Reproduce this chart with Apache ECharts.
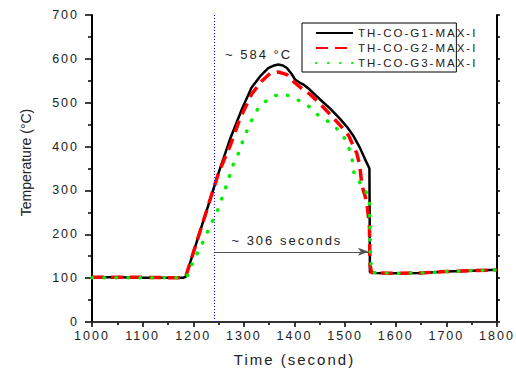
<!DOCTYPE html>
<html><head><meta charset="utf-8">
<script src="https://cdn.jsdelivr.net/npm/echarts@6/dist/echarts.min.js"></script>
<style>
html,body{margin:0;padding:0;background:#fff;}
#chart{width:516px;height:372px;}
#chart text{letter-spacing:2px;}
</style></head><body><div id="chart"></div>
<script>
// ---- data ----
const seriesNames = ['TH-CO-G1-MAX-I', 'TH-CO-G2-MAX-I', 'TH-CO-G3-MAX-I'];

const timeG1 = [1000, 1050, 1100, 1150, 1180, 1185, 1250, 1273, 1296, 1315, 1332, 1348, 1360, 1368, 1377, 1385, 1394, 1401, 1410, 1417, 1430, 1450, 1470, 1490, 1505, 1516, 1528, 1539, 1548, 1549, 1552, 1560, 1600, 1650, 1700, 1750, 1800];
const tempG1 = [102, 102, 101, 101, 101, 103, 340, 418, 485, 534, 560, 579, 585, 587, 585, 579, 566, 553, 546, 542, 530, 508, 487, 463, 443, 425, 400, 372, 350, 114, 113, 112, 111, 112, 115, 117, 119];

const timeG2 = [1000, 1050, 1100, 1150, 1180, 1185, 1250, 1273, 1292, 1315, 1335, 1352, 1368, 1385, 1401, 1415, 1431, 1450, 1464, 1480, 1497, 1507, 1516, 1523, 1529, 1533, 1540, 1543, 1546, 1548, 1549, 1552, 1560, 1600, 1650, 1700, 1750, 1800];
const tempG2 = [102, 102, 102, 101, 101, 103, 340, 402, 463, 519, 549, 567, 570, 564, 545, 532, 519, 498, 481, 461, 440, 425, 402, 385, 357, 312, 285, 271, 240, 222, 132, 113, 112, 111, 112, 115, 117, 119];

const timeG3 = [1000, 1050, 1100, 1150, 1180, 1188, 1195, 1205, 1217, 1228, 1238, 1248, 1256, 1264, 1279, 1289, 1297, 1306, 1317, 1329, 1348, 1362, 1375, 1390, 1404, 1427, 1450, 1470, 1493, 1503, 1513, 1518, 1529, 1539, 1548, 1550, 1552, 1560, 1600, 1650, 1700, 1750, 1800];
const tempG3 = [101, 101, 101, 101, 101, 105, 126, 150, 177, 205, 230, 254, 280, 306, 359, 384, 410, 436, 464, 489, 508, 516, 520, 516, 508, 493, 468, 455, 431, 410, 380, 335, 318, 303, 278, 150, 113, 112, 111, 112, 115, 117, 119];

const xTicks = [1000, 1100, 1200, 1300, 1400, 1500, 1600, 1700, 1800];
const yTicks = [0, 100, 200, 300, 400, 500, 600, 700];

const markerTime = 1242;          // blue dotted marker
const durationEndTime = 1547;     // arrow end
const durationArrowTemp = 160;
const peakText = '~ 584 °C';
const peakTextPos = [1329, 609];
const durationText = '~ 306 seconds';
const durationTextPos = [1385, 186];
const yTitle = 'Temperature (°C)';
const xTitle = 'Time (second)';

// ---- chart ----
const pair = (xs, ys) => xs.map((x, i) => [x, ys[i]]);
const chart = echarts.init(document.getElementById('chart'), null, {renderer: 'svg'});
const FONT = 'Liberation Sans, Arial, sans-serif';
const TXT = '#222';

const baseX = {
  type: 'value', min: xTicks[0], max: xTicks[xTicks.length - 1], interval: 100,
  splitLine: {show: false}
};
const baseY = {
  type: 'value', min: yTicks[0], max: yTicks[yTicks.length - 1], interval: 100,
  splitLine: {show: false}
};

chart.setOption({
  animation: false,
  backgroundColor: '#fff',
  grid: {left: 92, right: 19, top: 15, bottom: 47},
  legend: {
    data: seriesNames,
    orient: 'vertical',
    left: 302, top: 23,
    padding: [4, 7, 3, 13],
    itemGap: 3,
    itemWidth: 37, itemHeight: 13,
    borderColor: '#000', borderWidth: 1,
    itemStyle: {opacity: 0},
    textStyle: {fontFamily: FONT, fontSize: 11.5, color: TXT}
  },
  xAxis: [
    Object.assign({}, baseX, {
      position: 'bottom',
      name: xTitle, nameLocation: 'middle', nameGap: 30,
      nameTextStyle: {fontFamily: FONT, fontSize: 15, color: TXT},
      axisLine: {lineStyle: {color: '#000', width: 2}},
      axisTick: {inside: false, length: 5, lineStyle: {color: '#000', width: 1.5}},
      minorTick: {show: true, splitNumber: 2, length: 3, lineStyle: {color: '#000', width: 1.5}},
      axisLabel: {fontFamily: FONT, fontSize: 12.5, color: TXT, margin: 7, formatter: v => String(v)}
    }),
    Object.assign({}, baseX, {
      position: 'top', interval: 50,
      axisLine: {lineStyle: {color: '#333', width: 2}},
      axisTick: {inside: true, length: 3, lineStyle: {color: '#333', width: 1.5}},
      axisLabel: {show: false}
    })
  ],
  yAxis: [
    Object.assign({}, baseY, {
      position: 'left',
      name: yTitle, nameLocation: 'middle', nameGap: 59, nameRotate: 90,
      nameTextStyle: {fontFamily: FONT, fontSize: 14, color: TXT, padding: [0, 0, 0, 12]},
      axisLine: {lineStyle: {color: '#000', width: 2}},
      axisTick: {inside: false, length: 7, lineStyle: {color: '#000', width: 1.5}},
      minorTick: {show: true, splitNumber: 2, length: 4, lineStyle: {color: '#000', width: 1.5}},
      axisLabel: {fontFamily: FONT, fontSize: 12.5, color: TXT, margin: 13, formatter: v => String(v)}
    }),
    Object.assign({}, baseY, {
      position: 'right', interval: 50,
      axisLine: {lineStyle: {color: '#000', width: 2}},
      axisTick: {inside: false, length: 3, lineStyle: {color: '#000', width: 1.5}},
      axisLabel: {show: false}
    })
  ],
  series: [
    {
      name: seriesNames[0], type: 'line', data: pair(timeG1, tempG1),
      showSymbol: false, symbol: 'none', z: 3,
      lineStyle: {color: '#000', width: 2.5},
      itemStyle: {color: '#000'},
      markLine: {
        silent: true, symbol: ['none', 'none'], label: {show: false},
        data: [
          [{coord: [markerTime, yTicks[0]], lineStyle: {color: '#0000ff', width: 1, type: [1, 2]}},
           {coord: [markerTime, yTicks[yTicks.length - 1]]}],
          [{coord: [markerTime, durationArrowTemp], symbol: 'none', lineStyle: {color: '#555', width: 1, type: 'solid'}},
           {coord: [durationEndTime, durationArrowTemp], symbol: 'arrow', symbolSize: [6, 11]}]
        ]
      },
      markPoint: {
        silent: true, symbol: 'circle', symbolSize: 0,
        label: {show: true, position: 'inside', fontFamily: FONT, fontSize: 13, color: TXT,
                formatter: p => p.name},
        data: [
          {name: peakText, coord: peakTextPos},
          {name: durationText, coord: durationTextPos}
        ]
      }
    },
    {
      name: seriesNames[1], type: 'line', data: pair(timeG2, tempG2),
      showSymbol: false, symbol: 'none', z: 4,
      lineStyle: {color: '#ff0000', width: 3.5, type: [12, 7]},
      itemStyle: {color: '#ff0000'}
    },
    {
      name: seriesNames[2], type: 'line', data: pair(timeG3, tempG3),
      showSymbol: false, symbol: 'none', z: 5,
      lineStyle: {color: '#00ee00', width: 3.5, type: [0.5, 11.5], cap: 'round'},
      itemStyle: {color: '#00ee00'}
    }
  ]
});

// the y-axis title is drawn without extra letter spacing
function tightenYTitle() {
  document.querySelectorAll('#chart text').forEach(t => {
    if (t.textContent === yTitle) t.style.letterSpacing = '0px';
  });
}
tightenYTitle();
chart.on('finished', tightenYTitle);
</script></body></html>
